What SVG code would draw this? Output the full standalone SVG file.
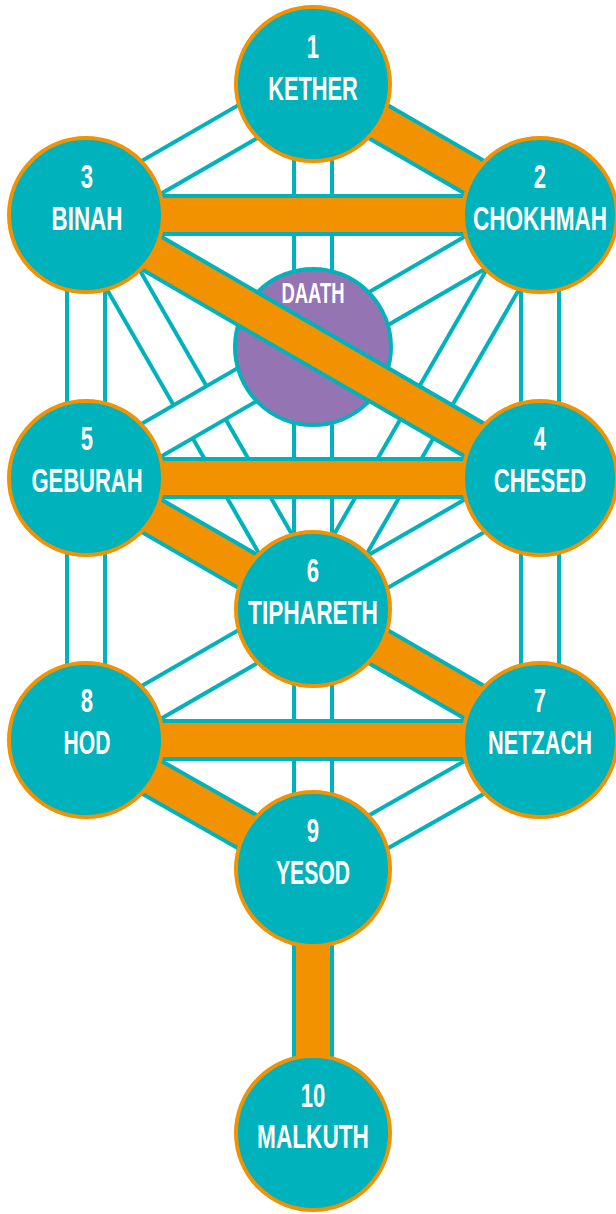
<svg xmlns="http://www.w3.org/2000/svg" width="616" height="1214" viewBox="0 0 616 1214">
<style>
.e{fill:none;stroke:#00b2bb;stroke-width:42}
.w{fill:none;stroke:#ffffff;stroke-width:34}
.o{fill:none;stroke:#f29200;stroke-width:34}
.n{fill:#00b2bb;stroke:#f29200;stroke-width:4}
.d{fill:#9574b3;stroke:#00b2bb;stroke-width:4}
text{font-family:"Liberation Sans",Arial,sans-serif;font-weight:bold;fill:#ffffff;text-anchor:middle;font-size:34px}
.dt{font-size:29px}
</style>
<defs>
<path id="p13" d="M313 84L86 215"/>
<path id="p16" d="M313 84L313 609"/>
<path id="p24" d="M540 215L540 478"/>
<path id="p25" d="M540 215L86 478"/>
<path id="p26" d="M540 215L313 609"/>
<path id="p35" d="M86 215L86 478"/>
<path id="p36" d="M86 215L313 609"/>
<path id="p46" d="M540 478L313 609"/>
<path id="p47" d="M540 478L540 740"/>
<path id="p58" d="M86 478L86 740"/>
<path id="p68" d="M313 609L86 740"/>
<path id="p69" d="M313 609L313 869"/>
<path id="p79" d="M540 740L313 869"/>
<path id="p12" d="M313 84L540 215"/>
<path id="p23" d="M540 215L86 215"/>
<path id="p34" d="M86 215L540 478"/>
<path id="p45" d="M540 478L86 478"/>
<path id="p56" d="M86 478L313 609"/>
<path id="p67" d="M313 609L540 740"/>
<path id="p78" d="M540 740L86 740"/>
<path id="p89" d="M86 740L313 869"/>
<path id="p910" d="M313 869L313 1133"/>
</defs>
<g id="connectors">
<g id="paths">
<use href="#p13" class="e"/><use href="#p13" class="w"/>
<use href="#p24" class="e"/><use href="#p24" class="w"/>
<use href="#p35" class="e"/><use href="#p35" class="w"/>
<use href="#p47" class="e"/><use href="#p47" class="w"/>
<use href="#p58" class="e"/><use href="#p58" class="w"/>
<use href="#p68" class="e"/><use href="#p68" class="w"/>
<use href="#p79" class="e"/><use href="#p79" class="w"/>
<use href="#p46" class="e"/><use href="#p46" class="w"/>
<use href="#p69" class="e"/><use href="#p69" class="w"/>
<use href="#p16" class="e"/><use href="#p16" class="w"/>
<use href="#p36" class="e"/><use href="#p36" class="w"/>
<use href="#p26" class="e"/><use href="#p26" class="w"/>
<use href="#p25" class="e"/><use href="#p25" class="w"/>
</g>
</g>
<g id="daath">
<circle class="d" cx="313" cy="347" r="78"/>
<text class="dt" transform="translate(313 303) scale(0.65 1)" textLength="97" lengthAdjust="spacingAndGlyphs">DAATH</text>
</g>
<g id="connectors-flash">
<use href="#p12" class="e"/><use href="#p12" class="o"/>
<use href="#p23" class="e"/><use href="#p23" class="o"/>
<use href="#p34" class="e"/><use href="#p34" class="o"/>
<use href="#p45" class="e"/><use href="#p45" class="o"/>
<use href="#p56" class="e"/><use href="#p56" class="o"/>
<use href="#p67" class="e"/><use href="#p67" class="o"/>
<use href="#p78" class="e"/><use href="#p78" class="o"/>
<use href="#p89" class="e"/><use href="#p89" class="o"/>
<use href="#p910" class="e"/><use href="#p910" class="o"/>
</g>
<g id="kether">
<circle class="n" cx="313" cy="84" r="77"/>
<text transform="translate(313 58) scale(0.65 1)">1</text>
<text transform="translate(313 100) scale(0.65 1)" textLength="138" lengthAdjust="spacingAndGlyphs">KETHER</text>
</g>
<g id="chokhmah">
<circle class="n" cx="540" cy="215" r="77"/>
<text transform="translate(540 188) scale(0.65 1)">2</text>
<text transform="translate(540 230) scale(0.65 1)" textLength="206" lengthAdjust="spacingAndGlyphs">CHOKHMAH</text>
</g>
<g id="binah">
<circle class="n" cx="86" cy="215" r="77"/>
<text transform="translate(87 188) scale(0.65 1)">3</text>
<text transform="translate(87 230) scale(0.65 1)" textLength="109" lengthAdjust="spacingAndGlyphs">BINAH</text>
</g>
<g id="chesed">
<circle class="n" cx="540" cy="478" r="77"/>
<text transform="translate(540 450) scale(0.65 1)">4</text>
<text transform="translate(540 492) scale(0.65 1)" textLength="142" lengthAdjust="spacingAndGlyphs">CHESED</text>
</g>
<g id="geburah">
<circle class="n" cx="86" cy="478" r="77"/>
<text transform="translate(87 450) scale(0.65 1)">5</text>
<text transform="translate(87 492) scale(0.65 1)" textLength="171" lengthAdjust="spacingAndGlyphs">GEBURAH</text>
</g>
<g id="tiphareth">
<circle class="n" cx="313" cy="609" r="77"/>
<text transform="translate(313 582) scale(0.65 1)">6</text>
<text transform="translate(313 624) scale(0.65 1)" textLength="200" lengthAdjust="spacingAndGlyphs">TIPHARETH</text>
</g>
<g id="netzach">
<circle class="n" cx="540" cy="740" r="77"/>
<text transform="translate(540 712) scale(0.65 1)">7</text>
<text transform="translate(540 754) scale(0.65 1)" textLength="160" lengthAdjust="spacingAndGlyphs">NETZACH</text>
</g>
<g id="hod">
<circle class="n" cx="86" cy="740" r="77"/>
<text transform="translate(87 712) scale(0.65 1)">8</text>
<text transform="translate(87 754) scale(0.65 1)" textLength="72" lengthAdjust="spacingAndGlyphs">HOD</text>
</g>
<g id="yesod">
<circle class="n" cx="313" cy="869" r="77"/>
<text transform="translate(313 842) scale(0.65 1)">9</text>
<text transform="translate(313 884) scale(0.65 1)" textLength="114" lengthAdjust="spacingAndGlyphs">YESOD</text>
</g>
<g id="malkuth">
<circle class="n" cx="313" cy="1133" r="77"/>
<text transform="translate(313 1107) scale(0.65 1)">10</text>
<text transform="translate(313 1148) scale(0.65 1)" textLength="172" lengthAdjust="spacingAndGlyphs">MALKUTH</text>
</g>
</svg>
